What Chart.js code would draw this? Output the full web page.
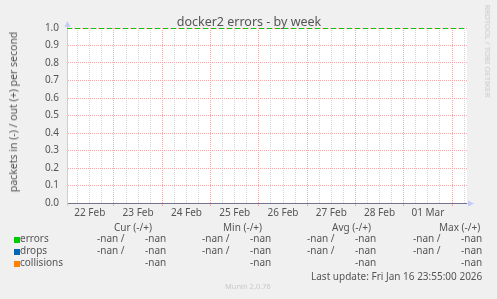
<!DOCTYPE html>
<html lang="en">
<head>
<meta charset="UTF-8">
<title>docker2 errors - by week</title>
<script src="https://cdn.jsdelivr.net/npm/chart.js"></script>
<style>
    html, body {
        margin: 0;
        padding: 0;
        background: #f0f0f0;
    }
    #wrap {
        position: relative;
        width: 497px;
        height: 299px;
        overflow: hidden;
        font-family: 'Noto Sans', sans-serif;
        color: #555;
    }
    #wrap canvas {
        position: absolute;
        left: 0;
        top: 0;
    }
    .t {
        position: absolute;
        white-space: nowrap;
        line-height: normal;
    }
</style>
</head>
<body>
<div id="wrap">
    <canvas id="chart" width="497" height="299"></canvas>
</div>

<script>
    // time axis in days since 22 Feb 00:00
    const xStart = 0.027;
    const xEnd = 8.31;
    const dayLabels = ['22 Feb', '23 Feb', '24 Feb', '25 Feb', '26 Feb', '27 Feb', '28 Feb', '01 Mar'];
    const yTickValues = [0, 0.1, 0.2, 0.3, 0.4, 0.5, 0.6, 0.7, 0.8, 0.9, 1.0];

    // samples (all nan in the rrd)
    const sampleDays = [xStart, xEnd];
    const errorsOut = [NaN, NaN];
    const dropsOut = [NaN, NaN];
    const collisionsOut = [NaN, NaN];
    const errorsLimit = [1.0, 1.0];

    // legend table
    const seriesNames = ['errors', 'drops', 'collisions'];
    const curIn = ['-nan', '-nan', ''];
    const curOut = ['-nan', '-nan', '-nan'];
    const minIn = ['-nan', '-nan', ''];
    const minOut = ['-nan', '-nan', '-nan'];
    const avgIn = ['-nan', '-nan', ''];
    const avgOut = ['-nan', '-nan', '-nan'];
    const maxIn = ['-nan', '-nan', ''];
    const maxOut = ['-nan', '-nan', '-nan'];

    const colors = ['#00cc00', '#0066b3', '#ff8000'];
    const majorGrid = '#ebafaf';
    const minorGrid = '#d6d6d6';
    const tickFont = { family: 'Noto Sans', size: 10 };

    const wrap = document.getElementById('wrap');

    // place text by its baseline
    function addText(str, x, baseline, size, opts) {
        opts = opts || {};
        const el = document.createElement('div');
        el.className = 't';
        el.textContent = str;
        el.style.fontSize = size + 'px';
        el.style.top = (baseline - 1.069 * size) + 'px';
        el.style.left = x + 'px';
        if (opts.center) el.style.transform = 'translateX(-50%)';
        if (opts.color) el.style.color = opts.color;
        wrap.appendChild(el);
        return el;
    }

    function addRotated(str, cx, cy, size, angle, color) {
        const el = document.createElement('div');
        el.className = 't';
        el.textContent = str;
        el.style.fontSize = size + 'px';
        el.style.left = cx + 'px';
        el.style.top = cy + 'px';
        el.style.color = color;
        el.style.transform = 'translate(-50%, -50%) rotate(' + angle + 'deg)';
        wrap.appendChild(el);
    }

    // background: grey page, white plot
    const bgPlugin = {
        id: 'bg',
        beforeDraw(chart) {
            const { ctx, chartArea: a } = chart;
            ctx.save();
            ctx.fillStyle = '#ffffff';
            ctx.fillRect(a.left, a.top, a.right - a.left, a.bottom - a.top);
            ctx.restore();
        }
    };

    // rrdtool style axis arrows
    const arrowPlugin = {
        id: 'arrows',
        afterDraw(chart) {
            const { ctx, chartArea: a } = chart;
            ctx.save();
            ctx.strokeStyle = '#c8ccf4';
            ctx.fillStyle = '#c4ccf6';
            ctx.lineWidth = 1;
            ctx.beginPath();
            ctx.moveTo(a.left + 0.5, a.top);
            ctx.lineTo(a.left + 0.5, a.top - 2);
            ctx.moveTo(a.left + 0.5, a.bottom);
            ctx.lineTo(a.left + 0.5, a.bottom + 3);
            ctx.moveTo(a.right, a.bottom + 0.5);
            ctx.lineTo(a.right + 2, a.bottom + 0.5);
            ctx.stroke();
            ctx.beginPath();
            ctx.moveTo(a.left + 0.5, a.top - 7);
            ctx.lineTo(a.left - 2.5, a.top - 1);
            ctx.lineTo(a.left + 3.5, a.top - 1);
            ctx.closePath();
            ctx.fill();
            ctx.beginPath();
            ctx.moveTo(a.right + 7, a.bottom + 0.5);
            ctx.lineTo(a.right + 1, a.bottom - 2.5);
            ctx.lineTo(a.right + 1, a.bottom + 3.5);
            ctx.closePath();
            ctx.fill();
            ctx.restore();
        }
    };

    function points(ys) {
        return sampleDays.map((d, i) => ({ x: d, y: ys[i] }));
    }

    new Chart(document.getElementById('chart'), {
        type: 'line',
        data: {
            datasets: [
                { label: 'errors', data: points(errorsOut), borderColor: colors[0], borderWidth: 1, pointRadius: 0 },
                { label: 'drops', data: points(dropsOut), borderColor: colors[1], borderWidth: 1, pointRadius: 0 },
                { label: 'collisions', data: points(collisionsOut), borderColor: colors[2], borderWidth: 1, pointRadius: 0 },
                { label: 'errors limit', data: points(errorsLimit), borderColor: colors[0], borderWidth: 2, borderDash: [5, 3], pointRadius: 0 }
            ]
        },
        options: {
            responsive: false,
            animation: false,
            layout: { padding: { left: 0, top: 28, right: 30, bottom: 70 } },
            plugins: {
                legend: { display: false },
                tooltip: { enabled: false }
            },
            scales: {
                x: {
                    type: 'linear',
                    min: xStart,
                    max: xEnd,
                    afterBuildTicks: s => {
                        const t = [];
                        for (let k = Math.ceil(xStart * 4); k <= Math.floor(xEnd * 4); k++) t.push({ value: k / 4 });
                        s.ticks = t;
                    },
                    afterFit: s => { s.height = 26; },
                    ticks: {
                        autoSkip: false,
                        maxRotation: 0,
                        padding: 1,
                        color: '#555',
                        font: tickFont,
                        callback: v => (v % 1 === 0.5 ? dayLabels[Math.floor(v)] : '')
                    },
                    grid: {
                        color: c => (c.tick && c.tick.value % 1 === 0 ? majorGrid : minorGrid),
                        lineWidth: 1,
                        drawTicks: true,
                        tickLength: 3,
                        tickColor: c => (c.tick && c.tick.value % 1 === 0 ? majorGrid : 'rgba(0,0,0,0)')
                    },
                    border: { color: '#74748e', width: 1, dash: [1, 1] }
                },
                y: {
                    min: 0,
                    max: 1,
                    afterBuildTicks: s => { s.ticks = yTickValues.map(v => ({ value: v })); },
                    afterFit: s => { s.width = 67; },
                    ticks: {
                        padding: 8,
                        color: '#555',
                        font: tickFont,
                        callback: v => v.toFixed(1)
                    },
                    grid: {
                        color: c => (c.tick && c.tick.value === 0 ? 'rgba(0,0,0,0)' : majorGrid),
                        lineWidth: 1,
                        drawTicks: false
                    },
                    border: { color: '#c8ccf4', width: 1, dash: [1, 1] }
                }
            }
        },
        plugins: [bgPlugin, arrowPlugin]
    });

    // title and side texts
    addText('docker2 errors - by week', 249, 26, 12.5, { center: true });
    addRotated('packets in (-) / out (+) per second', 12.5, 111.5, 10.5, -90, '#555');
    addRotated('RRDTOOL / TOBI OETIKER', 488, 51, 7.7, 90, '#c8c8c8');

    // legend header
    addText('Cur (-/+)', 114, 231, 10);
    addText('Min (-/+)', 223, 231, 10);
    addText('Avg (-/+)', 332, 231, 10);
    addText('Max (-/+)', 439, 231, 10);

    const inCols = [[curIn, 97], [minIn, 202], [avgIn, 307], [maxIn, 413]];
    const outCols = [[curOut, 145], [minOut, 250], [avgOut, 355], [maxOut, 461]];
    seriesNames.forEach((name, i) => {
        const base = 242 + i * 12;
        const sw = document.createElement('div');
        sw.style.cssText = 'position:absolute;left:14px;width:6px;height:6px;top:' + (base - 5) + 'px;background:' + colors[i];
        wrap.appendChild(sw);
        addText(name, 20, base, 10);
        inCols.forEach(([vals, x]) => { if (vals[i]) addText(vals[i] + ' /', x, base, 10); });
        outCols.forEach(([vals, x]) => { if (vals[i]) addText(vals[i], x, base, 10); });
    });

    addText('Last update: Fri Jan 16 23:55:00 2026', 311, 280, 10);
    addText('Munin 2.0.76', 225, 289, 7.5, { color: '#c8c8c8' });
</script>
</body>
</html>
